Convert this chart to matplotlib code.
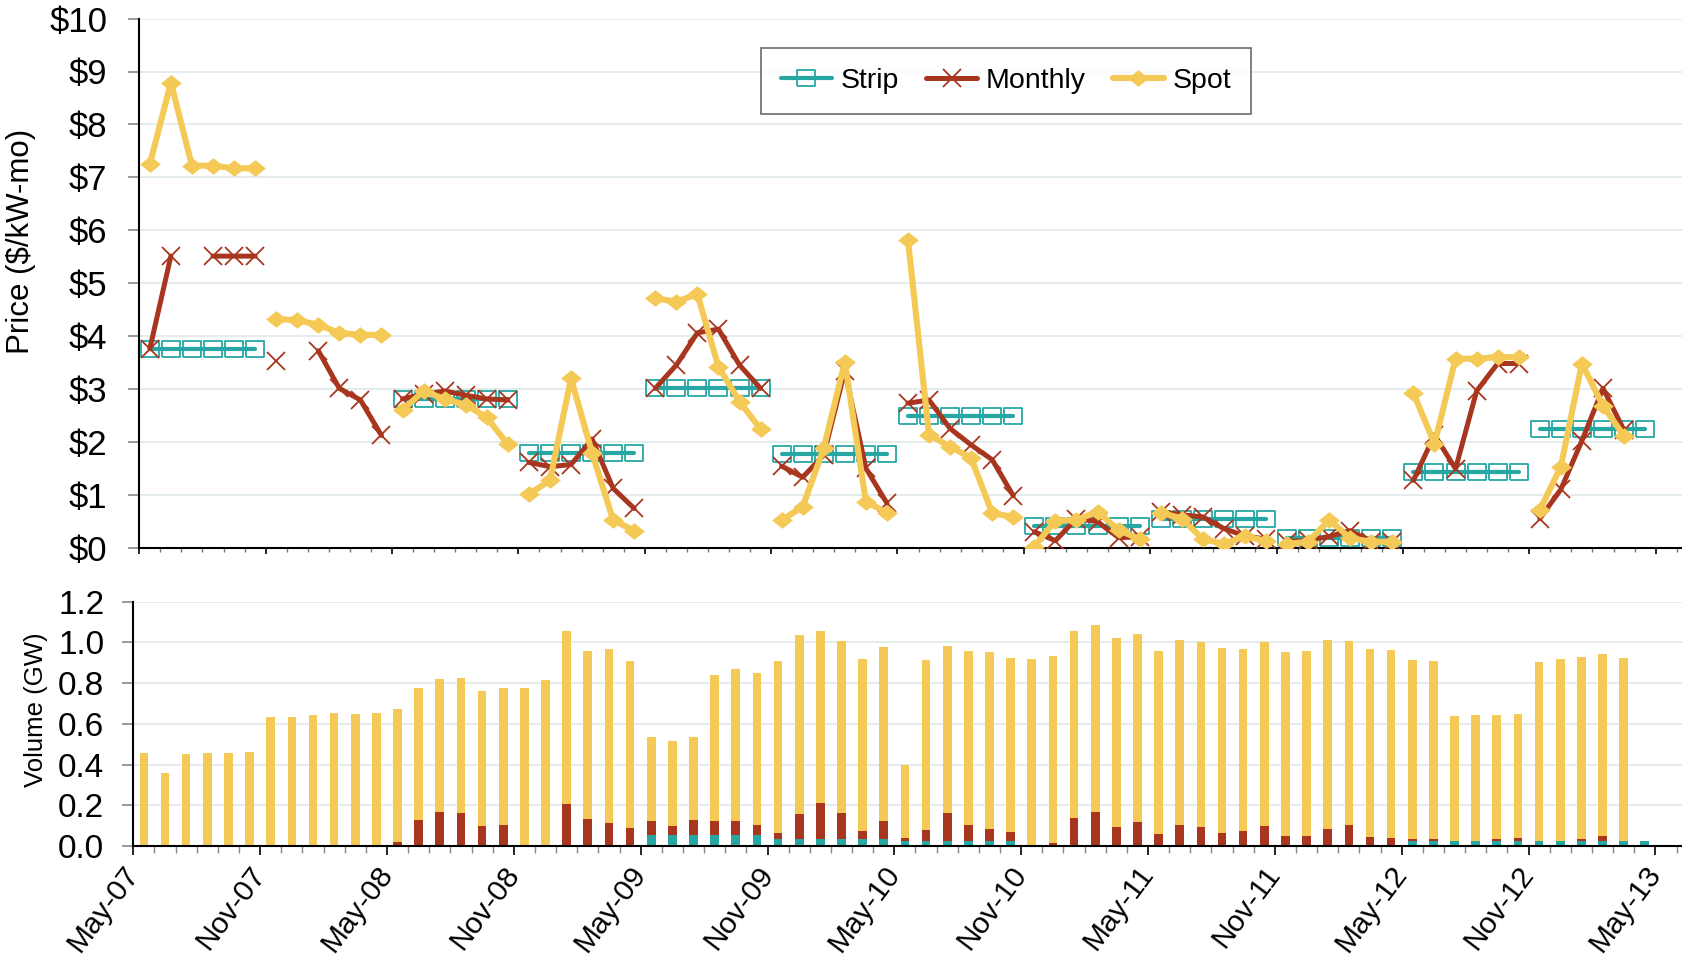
import matplotlib
matplotlib.use("Agg")
import matplotlib.pyplot as plt
import numpy as np
from matplotlib.ticker import FixedLocator, FuncFormatter
from matplotlib.transforms import ScaledTranslation

plt.rcParams['font.family'] = ['Liberation Sans', 'DejaVu Sans']

nan = np.nan

# monthly prices, May-07 .. Apr-13 ($/kW-mo)
strip_price = [3.76]*6 + [nan]*6 + [2.81]*6 + [1.78]*6 + [3.01]*6 + [1.77]*6 \
    + [2.48]*6 + [0.41]*6 + [0.55]*6 + [0.18]*6 + [1.43]*6 + [2.25]*6
monthly_price = [3.76, 5.51, nan, 5.51, 5.51, 5.51,
                 3.52, nan, 3.72, 3.01, 2.79, 2.12,
                 2.81, 2.90, 2.96, 2.88, 2.81, 2.79,
                 1.61, 1.53, 1.57, 2.05, 1.12, 0.74,
                 3.01, 3.45, 4.06, 4.13, 3.45, 3.01,
                 1.54, 1.33, 1.75, 3.34, 1.50, 0.84,
                 2.73, 2.79, 2.25, 1.94, 1.66, 0.98,
                 0.30, 0.13, 0.55, 0.49, 0.19, 0.20,
                 0.68, 0.62, 0.58, 0.36, 0.22, 0.16,
                 0.11, 0.14, 0.21, 0.32, 0.11, 0.11,
                 1.27, 2.13, 1.49, 2.96, 3.48, 3.48,
                 0.55, 1.10, 2.02, 3.01, 2.22, nan]
spot_price = [7.25, 8.79, 7.22, 7.22, 7.17, 7.17,
              4.32, 4.30, 4.21, 4.06, 4.02, 4.02,
              2.60, 2.96, 2.81, 2.70, 2.46, 1.95,
              1.01, 1.27, 3.20, 1.79, 0.52, 0.32,
              4.71, 4.65, 4.79, 3.42, 2.76, 2.24,
              0.52, 0.77, 1.88, 3.51, 0.87, 0.66,
              5.81, 2.13, 1.91, 1.69, 0.65, 0.58,
              0.02, 0.51, 0.52, 0.68, 0.33, 0.16,
              0.66, 0.55, 0.16, 0.07, 0.21, 0.13,
              0.07, 0.11, 0.52, 0.18, 0.11, 0.11,
              2.92, 1.96, 3.57, 3.57, 3.60, 3.60,
              0.71, 1.53, 3.48, 2.68, 2.11, nan]

# volumes (GW)
strip_vol = [0]*24 + [0.052]*6 + [0.033]*6 + [0.023]*6 + [0]*18 + [0.023]*6 + [0.025]*6
monthly_vol = [0, 0, 0, 0, 0, 0, 0, 0, 0, 0.005, 0, 0,
               0.02, 0.128, 0.167, 0.162, 0.10, 0.103,
               0, 0.005, 0.208, 0.133, 0.115, 0.087,
               0.071, 0.045, 0.076, 0.072, 0.072, 0.049,
               0.029, 0.124, 0.180, 0.129, 0.039, 0.088,
               0.016, 0.056, 0.137, 0.082, 0.059, 0.046,
               0.005, 0.015, 0.137, 0.169, 0.093, 0.119,
               0.059, 0.103, 0.095, 0.062, 0.075, 0.098,
               0.049, 0.049, 0.085, 0.103, 0.043, 0.039,
               0.011, 0.011, 0.003, 0.003, 0.011, 0.016,
               0, 0, 0.009, 0.022, 0, 0]
spot_vol = [0.455, 0.358, 0.452, 0.455, 0.457, 0.460,
            0.633, 0.635, 0.642, 0.646, 0.650, 0.651,
            0.653, 0.646, 0.653, 0.661, 0.661, 0.673,
            0.774, 0.808, 0.849, 0.823, 0.851, 0.823,
            0.414, 0.417, 0.406, 0.717, 0.743, 0.750,
            0.846, 0.877, 0.844, 0.845, 0.846, 0.856,
            0.357, 0.833, 0.820, 0.854, 0.869, 0.854,
            0.915, 0.918, 0.919, 0.916, 0.928, 0.922,
            0.897, 0.907, 0.908, 0.913, 0.894, 0.902,
            0.904, 0.907, 0.926, 0.905, 0.924, 0.923,
            0.879, 0.873, 0.611, 0.617, 0.611, 0.609,
            0.880, 0.895, 0.892, 0.896, 0.896, 0]

tick_labels = ['May-07', 'Nov-07', 'May-08', 'Nov-08', 'May-09', 'Nov-09', 'May-10',
               'Nov-10', 'May-11', 'Nov-11', 'May-12', 'Nov-12', 'May-13']

teal = '#26a7a4'
red = '#a8361f'
yellow = '#f4c955'
gridc = '#e3ebeb'

W, H = 1682, 974
fig = plt.figure(figsize=(W/100, H/100), dpi=100)

x = np.arange(len(spot_price)) + 0.5
strip_price = np.array(strip_price)
monthly_price = np.array(monthly_price)
spot_price = np.array(spot_price)

# price panel
ax1 = fig.add_axes([139.3/W, 1-547.6/H, (W-139.3)/W, (547.6-18.6)/H])
box = [(-1.2, -1), (1.2, -1), (1.2, 1), (-1.2, 1), (-1.2, -1)]
diam = [(-1.25, 0), (0, 1), (1.25, 0), (0, -1), (-1.25, 0)]
for s in range(0, 72, 6):
    lab = s == 0
    ax1.plot(x[s:s+6], strip_price[s:s+6], color=teal, lw=3, marker=box, ms=13.5,
             mfc='none', mec=teal, mew=1.3, solid_capstyle='round',
             label='Strip' if lab else None, zorder=3)
    ax1.plot(x[s:s+6], monthly_price[s:s+6], color=red, lw=3.6, marker='x', ms=13,
             mew=1.3, solid_capstyle='round', label='Monthly' if lab else None, zorder=4)
    ax1.plot(x[s:s+6], spot_price[s:s+6], color=yellow, lw=4.4, marker=diam, ms=15,
             mew=0, solid_capstyle='round', label='Spot' if lab else None, zorder=5)

ax1.set_xlim(0, (W-139.3)/21.06)
ax1.set_ylim(0, 10)
ax1.set_yticks(range(0, 11))
ax1.yaxis.set_major_formatter(FuncFormatter(lambda v, p: '$%d' % v))
ax1.xaxis.set_major_locator(FixedLocator(range(0, 73, 6)))
ax1.xaxis.set_minor_locator(FixedLocator(range(0, 74)))
ax1.set_xticklabels([])
ax1.tick_params(axis='x', which='major', length=4.5, width=1.2, color='black')
ax1.tick_params(axis='x', which='minor', length=3, width=1, color='#777777')
ax1.tick_params(axis='y', length=8, width=1.2, color='#888888', labelsize=25, pad=15)
ax1.grid(axis='y', color=gridc, lw=1.3)
ax1.set_axisbelow(True)
for sp in ['top', 'right']:
    ax1.spines[sp].set_visible(False)
ax1.spines['left'].set_linewidth(1.5)
ax1.spines['bottom'].set_linewidth(1.5)

leg = ax1.legend(loc='center', bbox_to_anchor=(1006/W, 1-81/H), bbox_transform=fig.transFigure,
                 ncol=3, fontsize=20.5, frameon=True, fancybox=False, handlelength=1.8,
                 handletextpad=0.3, columnspacing=0.95, borderpad=0.7, borderaxespad=0)
leg.get_frame().set_edgecolor('#555555')
leg.get_frame().set_linewidth(1.3)

# volume panel
ax2 = fig.add_axes([133.3/W, 1-846/H, (W-133.3)/W, (846-601.7)/H])
sv = np.array(strip_vol)
mv = np.array(monthly_vol)
pv = np.array(spot_vol)
ax2.bar(x, sv, width=0.41, color=teal, zorder=2)
ax2.bar(x, mv, width=0.41, bottom=sv, color=red, zorder=2)
ax2.bar(x, pv, width=0.41, bottom=sv+mv, color=yellow, zorder=2)
ax2.set_xlim(0, (W-133.3)/21.14)
ax2.set_ylim(0, 1.2)
ax2.set_yticks(np.arange(0, 1.21, 0.2))
ax2.yaxis.set_major_formatter(FuncFormatter(lambda v, p: '%.1f' % v))
ax2.xaxis.set_major_locator(FixedLocator(range(0, 73, 6)))
ax2.xaxis.set_minor_locator(FixedLocator(range(0, 74)))
ax2.set_xticklabels(tick_labels, rotation=53, ha='right', va='center',
                    rotation_mode='anchor', fontsize=21.5)
shift = ScaledTranslation(0.15, -0.08, fig.dpi_scale_trans)
for t in ax2.get_xticklabels():
    t.set_transform(t.get_transform() + shift)
ax2.tick_params(axis='x', which='major', length=6.5, width=1.2, color='black', pad=10)
ax2.tick_params(axis='x', which='minor', length=5, width=1, color='#888888')
ax2.tick_params(axis='y', length=8, width=1.2, color='#888888', labelsize=24, pad=13)
ax2.grid(axis='y', color=gridc, lw=1.3)
ax2.set_axisbelow(True)
for sp in ['top', 'right']:
    ax2.spines[sp].set_visible(False)
ax2.spines['left'].set_linewidth(1.5)
ax2.spines['bottom'].set_linewidth(1.5)

fig.text(21.5/W, 1-241/H, 'Price ($/kW-mo)', rotation=90, ha='center', va='center', fontsize=22.5)
fig.text(36/W, 1-710/H, 'Volume (GW)', rotation=90, ha='center', va='center', fontsize=18.5)

fig.savefig('out.png', dpi=100)
